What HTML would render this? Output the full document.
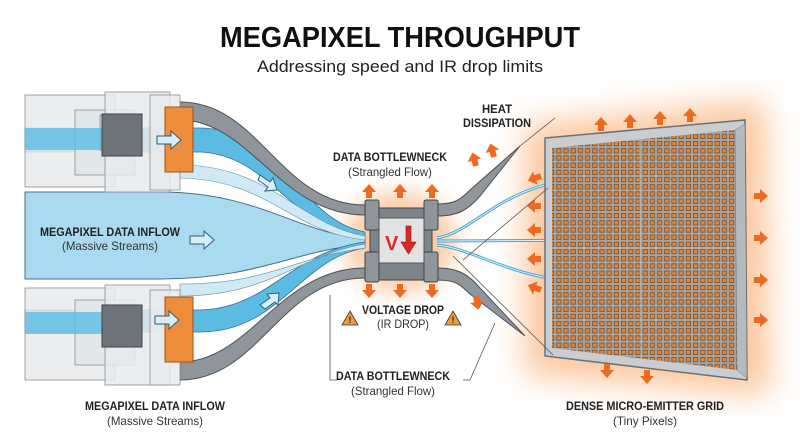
<!DOCTYPE html>
<html><head><meta charset="utf-8"><style>
html,body{margin:0;padding:0;background:#fff;}
svg{display:block;font-family:"Liberation Sans",sans-serif;}
.b{font-weight:bold;font-size:12px;fill:#222;}
.n{font-size:12px;fill:#333;}
</style></head><body>
<svg width="800" height="446" viewBox="0 0 800 446">
<defs>
<filter id="blur" x="-50%" y="-50%" width="200%" height="200%"><feGaussianBlur stdDeviation="16"/></filter>
<filter id="blur2" x="-50%" y="-50%" width="200%" height="200%"><feGaussianBlur stdDeviation="12"/></filter>
<pattern id="px" x="548" y="140" width="7.2" height="7.2" patternUnits="userSpaceOnUse">
<rect width="7.2" height="7.2" fill="#a3a6a8"/>
<rect x="1.4" y="1.4" width="4.4" height="4.4" fill="#e8832e" stroke="#5a3b1f" stroke-width="0.6"/>
</pattern>
<path id="ar" d="M-3,0 v-6 h-4 l7,-8 l7,8 h-4 v6z" fill="#ee6a22"/>
</defs>

<text x="400" y="47" text-anchor="middle" font-weight="bold" font-size="29" fill="#111" textLength="360" lengthAdjust="spacingAndGlyphs">MEGAPIXEL THROUGHPUT</text>
<text x="400" y="72" text-anchor="middle" font-size="17" fill="#222" textLength="286" lengthAdjust="spacingAndGlyphs">Addressing speed and IR drop limits</text>

<!-- glows -->
<path d="M525,125 L765,100 L770,395 L525,375Z" fill="#f9a868" opacity="0.65" filter="url(#blur)"/>
<ellipse cx="400" cy="242" rx="55" ry="50" fill="#f9b27a" opacity="0.7" filter="url(#blur2)"/>

<!-- center stream -->
<path d="M25,192 L160,192 C260,192 300,235 365,238 L365,245 C300,248 260,279 160,279 L25,279 Z" fill="#a9daf0" stroke="#4a6f80" stroke-width="1"/>
<path d="M25,128 L200,128 C280,128 300,220 365,232 L365,238 C290,228 270,155 200,152 L25,152Z" fill="#5cbbe3" stroke="#3d7088" stroke-width="0.8"/>
<path d="M180,165 C270,165 300,225 365,236 L365,240 C290,232 270,180 180,178Z" fill="#cfeaf6" stroke="#6f8f9c" stroke-width="0.6"/>
<path d="M25,332 L200,332 C280,332 300,258 365,248 L365,242 C290,252 270,308 200,310 L25,310Z" fill="#5cbbe3" stroke="#3d7088" stroke-width="0.8"/>
<path d="M180,296 C270,296 300,255 365,244 L365,248 C290,258 270,284 180,284Z" fill="#cfeaf6" stroke="#6f8f9c" stroke-width="0.6"/>

<!-- gray cables -->
<path d="M180,102 C260,102 280,205 365,205 L365,215 C280,215 250,120 180,120Z" fill="#8f959a" stroke="#4c5256" stroke-width="1"/>
<path d="M180,380 C260,380 280,278 365,278 L365,268 C280,268 250,362 180,362Z" fill="#8f959a" stroke="#4c5256" stroke-width="1"/>

<!-- modules top -->
<g stroke="#8a8f93" stroke-width="0.8" fill="#e7eaec" fill-opacity="0.85">
<rect x="25" y="95" width="90" height="92"/>
<rect x="75" y="110" width="60" height="65" fill="#dfe5e8"/>
<rect x="105" y="92" width="65" height="100"/>
<rect x="100" y="115" width="40" height="35" fill="#bfe3f2"/>
<rect x="150" y="95" width="30" height="95"/>
</g>
<rect x="25" y="128" width="110" height="22" fill="#5cbbe3" opacity="0.8"/>
<rect x="102" y="114" width="40" height="42" fill="#6d7378" stroke="#3f4447"/>
<rect x="165" y="107" width="28" height="65" fill="#ee8d3c" stroke="#9a5520"/>
<!-- modules bottom -->
<g stroke="#8a8f93" stroke-width="0.8" fill="#e7eaec" fill-opacity="0.85">
<rect x="25" y="288" width="90" height="92"/>
<rect x="75" y="300" width="60" height="65" fill="#dfe5e8"/>
<rect x="105" y="285" width="65" height="100"/>
<rect x="150" y="290" width="30" height="95"/>
</g>
<rect x="25" y="312" width="110" height="22" fill="#5cbbe3" opacity="0.8"/>
<rect x="102" y="305" width="40" height="42" fill="#6d7378" stroke="#3f4447"/>
<rect x="165" y="297" width="28" height="65" fill="#ee8d3c" stroke="#9a5520"/>

<!-- hollow arrows -->
<g fill="#d6eef8" stroke="#2f5f74" stroke-width="1">
<path d="M157,136 h14 v-5 l10,9 l-10,9 v-5 h-14z"/>
<path d="M190,236 h14 v-5 l10,9 l-10,9 v-5 h-14z"/>
<path d="M155,316 h14 v-5 l10,9 l-10,9 v-5 h-14z"/>
<path d="M260,175 l10,7 l3,-4 l4,12 l-12,1 l3,-4 l-10,-7z"/>
<path d="M260,305 l10,-7 l-3,-4 l12,-1 l-1,12 l-3,-3 l-10,7z"/>
</g>

<!-- right tapering cables -->
<path d="M437,204 C455,204 460,200 470,190 L520,146 L480,196 C468,210 458,216 437,216Z" fill="#8f959a" stroke="#4c5256"/>
<path d="M437,280 C455,280 460,284 470,294 L525,336 L480,288 C468,274 458,268 437,268Z" fill="#8f959a" stroke="#4c5256"/>
<g fill="none" stroke="#4aa9d4" stroke-width="3">
<path d="M437,238 C480,230 500,180 605,176"/>
<path d="M437,241 L640,240"/>
<path d="M437,245 C480,250 510,280 595,283"/>
</g>
<g fill="none" stroke="#d8f0fa" stroke-width="1">
<path d="M437,238 C480,230 500,180 605,176"/>
<path d="M437,241 L640,240"/>
<path d="M437,245 C480,250 510,280 595,283"/>
</g>

<!-- chip -->
<rect x="370" y="208" width="62" height="72" fill="#7e858a" stroke="#3f4447"/>
<rect x="365" y="200" width="14" height="30" rx="2" fill="#8f959a" stroke="#3f4447"/>
<rect x="365" y="252" width="14" height="30" rx="2" fill="#8f959a" stroke="#3f4447"/>
<rect x="424" y="200" width="14" height="30" rx="2" fill="#8f959a" stroke="#3f4447"/>
<rect x="424" y="252" width="14" height="30" rx="2" fill="#8f959a" stroke="#3f4447"/>
<rect x="379" y="218" width="45" height="45" fill="#e1e3e4" stroke="#555"/>
<text x="385" y="250" font-weight="bold" font-size="20" fill="#d92a26">V</text>
<path d="M406,226 h5 v16 h5 l-7.5,12 l-7.5,-12 h5z" fill="#d92a26" stroke="#8a1512" stroke-width="0.6"/>

<!-- grid panel -->
<path d="M545,138 L745,120 L747,380 L545,356Z" fill="#c9cdd0" stroke="#6d7276" stroke-width="1.5"/>
<path d="M552,148 L735,130 L737,370 L552,348Z" fill="url(#px)"/>
<path d="M735,130 L745,124 L747,378 L737,370Z" fill="#b4babd" stroke="#6d7276" stroke-width="0.5"/>
<g stroke="#c9ced1" stroke-width="0.8" fill="none" opacity="0.8">
<line x1="552" y1="248" x2="736" y2="248"/><line x1="640" y1="140" x2="641" y2="360"/>
</g>

<!-- orange heat arrows (base at origin, pointing up) -->
<use href="#ar" transform="translate(369,198)"/>
<use href="#ar" transform="translate(400,198)"/>
<use href="#ar" transform="translate(432,198)"/>
<use href="#ar" transform="translate(369,284) rotate(180)"/>
<use href="#ar" transform="translate(400,284) rotate(180)"/>
<use href="#ar" transform="translate(432,284) rotate(180)"/>
<use href="#ar" transform="translate(476,166) rotate(-15)"/>
<use href="#ar" transform="translate(494,157) rotate(-15)"/>
<use href="#ar" transform="translate(476,296) rotate(170)"/>
<use href="#ar" transform="translate(601,131)"/>
<use href="#ar" transform="translate(630,128)"/>
<use href="#ar" transform="translate(660,125)"/>
<use href="#ar" transform="translate(690,122)"/>
<use href="#ar" transform="translate(754,196) rotate(90)"/>
<use href="#ar" transform="translate(754,238) rotate(90)"/>
<use href="#ar" transform="translate(754,280) rotate(90)"/>
<use href="#ar" transform="translate(754,320) rotate(90)"/>
<use href="#ar" transform="translate(607,364) rotate(180)"/>
<use href="#ar" transform="translate(647,370) rotate(180)"/>
<use href="#ar" transform="translate(541,176) rotate(-110)"/>
<use href="#ar" transform="translate(541,206) rotate(-90)"/>
<use href="#ar" transform="translate(541,230) rotate(-90)"/>
<use href="#ar" transform="translate(541,259) rotate(-90)"/>
<use href="#ar" transform="translate(541,290) rotate(-70)"/>

<!-- leader lines -->
<g stroke="#555" stroke-width="0.8" fill="none">
<line x1="520" y1="146" x2="555" y2="118"/>
<line x1="463" y1="260" x2="548" y2="188"/>
<line x1="453" y1="256" x2="553" y2="355"/>
<polyline points="463,380 470,380 495,323"/>
<polyline points="330,295 330,380 337,380"/>
</g>

<!-- warnings -->
<g>
<path d="M350,311 l8,14 h-16z" fill="#f29a3b" stroke="#333" stroke-width="0.8"/>
<text x="350" y="323" text-anchor="middle" font-weight="bold" font-size="9" fill="#222">!</text>
<path d="M453,311 l8,14 h-16z" fill="#f29a3b" stroke="#333" stroke-width="0.8"/>
<text x="453" y="323" text-anchor="middle" font-weight="bold" font-size="9" fill="#222">!</text>
</g>

<!-- labels -->
<text class="b" x="390" y="161" text-anchor="middle" textLength="114" lengthAdjust="spacingAndGlyphs">DATA BOTTLEWNECK</text>
<text class="n" x="390" y="176" text-anchor="middle" textLength="84" lengthAdjust="spacingAndGlyphs">(Strangled Flow)</text>
<text class="b" x="497" y="113" text-anchor="middle" textLength="30" lengthAdjust="spacingAndGlyphs">HEAT</text>
<text class="b" x="497" y="127" text-anchor="middle" textLength="68" lengthAdjust="spacingAndGlyphs">DISSIPATION</text>
<text class="b" x="110" y="236" text-anchor="middle" textLength="140" lengthAdjust="spacingAndGlyphs">MEGAPIXEL DATA INFLOW</text>
<text class="n" x="110" y="250" text-anchor="middle" textLength="96" lengthAdjust="spacingAndGlyphs">(Massive Streams)</text>
<text class="b" x="403" y="314" text-anchor="middle" textLength="82" lengthAdjust="spacingAndGlyphs">VOLTAGE DROP</text>
<text class="n" x="403" y="328" text-anchor="middle" textLength="52" lengthAdjust="spacingAndGlyphs">(IR DROP)</text>
<text class="b" x="393" y="380" text-anchor="middle" textLength="114" lengthAdjust="spacingAndGlyphs">DATA BOTTLEWNECK</text>
<text class="n" x="393" y="395" text-anchor="middle" textLength="84" lengthAdjust="spacingAndGlyphs">(Strangled Flow)</text>
<text class="b" x="155" y="410" text-anchor="middle" textLength="140" lengthAdjust="spacingAndGlyphs">MEGAPIXEL DATA INFLOW</text>
<text class="n" x="155" y="425" text-anchor="middle" textLength="96" lengthAdjust="spacingAndGlyphs">(Massive Streams)</text>
<text class="b" x="645" y="410" text-anchor="middle" textLength="158" lengthAdjust="spacingAndGlyphs">DENSE MICRO-EMITTER GRID</text>
<text class="n" x="645" y="425" text-anchor="middle" textLength="64" lengthAdjust="spacingAndGlyphs">(Tiny Pixels)</text>
</svg>
</body></html>
